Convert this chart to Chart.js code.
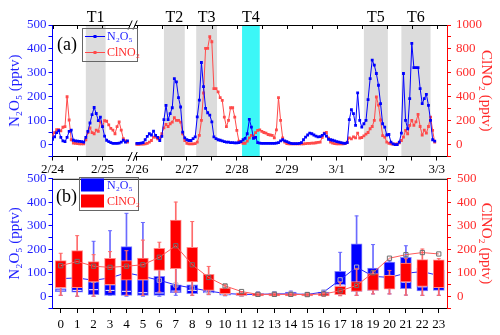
<!DOCTYPE html>
<html>
<head>
<meta charset="utf-8">
<script src="https://cdn.jsdelivr.net/npm/chart.js@4/dist/chart.umd.min.js"></script>
<style>
  html, body { margin: 0; padding: 0; background: #fff; }
  #wrap { position: relative; width: 500px; height: 335px; }
  canvas { position: absolute; left: 0; }
  #chartA { top: 0; }
  #chartB { top: 165px; }
</style>
</head>
<body>
<div id="wrap">
  <canvas id="chartA" width="500" height="175"></canvas>
  <canvas id="chartB" width="500" height="170"></canvas>
</div>
<script>
// ---- panel (a): hourly data, hour 0 = 2/24 00:00 ----
const seg1Start = 0;
const n2o5Seg1 = [22, 32, 50, 58, 30, 15, 12, 30, 55, 60, 18, 15, 14, 13, 12, 10, 30, 55, 90, 125, 155, 130, 100, 115,
  75, 35, 18, 12, 8, 5, 5, 5, 6, 10, 18, 10, 15];
const clno2Seg1 = [76, 100, 125, 125, 115, 145, 150, 400, 205, 40, 12, 10, 8, 6, 5, 5, 40, 100, 140, 100, 90, 120, 110, 190,
  150, 200, 195, 165, 135, 120, 90, 150, 190, 120, 50, 30, 20];

const seg2Start = 48;
const n2o5Seg2 = [
  5, 5, 6, 8, 20, 34, 45, 40, 56, 38, 30, 17,
  34, 104, 164, 104, 129, 154, 276, 262, 196, 157, 52, 28,
  20, 17, 17, 25, 32, 116, 186, 343, 242, 151, 133, 123,
  95, 32, 25, 20, 18, 15, 12, 10, 10, 8, 8, 7,
  7, 8, 12, 20, 26, 45, 105, 73, 26, 30, 8, 6,
  5, 5, 5, 5, 5, 5, 5, 6, 8, 15, 20, 15,
  12, 8, 5, 4, 4, 4, 5, 8, 20, 31, 40, 48,
  45, 40, 35, 32, 33, 38, 45, 35, 22, 20, 18, 15,
  12, 10, 8, 6, 5, 8, 104, 146, 129, 80, 216, 101,
  73, 87, 101, 188, 276, 353, 332, 297, 248, 171, 87, 73,
  40, 42, 10, 3, 0, 0, 10, 48, 297, 101, 66, 192,
  423, 322, 322, 322, 234, 171, 192, 210, 164, 101, 20, 14];
const clno2Seg2 = [
  2, 2, 3, 3, 5, 10, 20, 34, 62, 62, 48, 55,
  90, 140, 168, 151, 174, 188, 224, 202, 202, 188, 90, 34,
  11, 5, 5, 5, 8, 20, 76, 202, 431, 804, 804, 902,
  860, 468, 468, 440, 392, 370, 230, 150, 202, 308, 308, 230,
  118, 28, 20, 11, 11, 28, 56, 76, 70, 100, 118, 123,
  110, 101, 95, 84, 80, 76, 56, 123, 392, 202, 56, 20,
  8, 5, 5, 5, 5, 5, 5, 5, 6, 8, 10, 10,
  12, 12, 15, 18, 20, 60, 95, 101, 53, 20, 12, 8,
  5, 5, 5, 5, 8, 20, 56, 47, 64, 56, 95, 53,
  59, 73, 87, 101, 132, 151, 202, 398, 330, 205, 75, 62,
  20, 10, 5, 3, 3, 5, 15, 34, 62, 118, 90, 160,
  202, 160, 190, 252, 151, 80, 120, 95, 151, 230, 118, 20];

const dayLabels = ['2/24', '2/25', '2/26', '2/27', '2/28', '2/29', '3/1', '3/2', '3/3'];
const dayHours = [0, 24, 48, 72, 96, 120, 144, 168, 192];
const halfDayHours = [12, 60, 84, 108, 132, 156, 180];

const periodNames = ['T1', 'T2', 'T3', 'T4', 'T5', 'T6'];
const periodStart = [16, 61, 76.5, 98.5, 157, 175];
const periodEnd = [25.5, 71, 86.5, 107, 168.5, 189];

// ---- panel (b): diurnal statistics by hour ----
const hourLabels = ['0', '1', '2', '3', '4', '5', '6', '7', '8', '9', '10', '11',
  '12', '13', '14', '15', '16', '17', '18', '19', '20', '21', '22', '23'];
const n2o5Min = [4, 0, 0, 4, 0, 0, 0, 4, 4, 7, 2, 2, 2, 2, 2, 2, 2, 4, 4, 10, 10, 5, 4, 4];
const n2o5Q1 = [20, 17, 7, 4, 4, 4, 4, 15, 11, 14, 5, 4, 4, 4, 4, 4, 4, 46, 21, 25, 35, 32, 23, 25];
const n2o5Median = [26, 25, 28, 25, 21, 15, 14, 22, 25, 18, 9, 7, 7, 8, 9, 6, 10, 48, 40, 40, 60, 60, 40, 40];
const n2o5Q3 = [33, 38, 61, 49, 211, 70, 85, 49, 49, 25, 15, 12, 12, 14, 18, 10, 18, 106, 223, 120, 145, 166, 120, 110];
const n2o5Max = [90, 150, 234, 279, 353, 314, 180, 200, 150, 50, 30, 18, 18, 20, 22, 15, 25, 187, 342, 220, 150, 215, 140, 130];
const n2o5Mean = [75, 78, 68, 78, 100, 85, 68, 48, 35, 22, 12, 8, 8, 10, 10, 8, 18, 70, 124, 85, 80, 98, 105, 88];

const clno2Min = [4, 0, 0, 18, 4, 4, 18, 18, 4, 7, 4, 2, 0, 0, 0, 0, 0, 2, 4, 10, 10, 5, 4, 4];
const clno2Q1 = [37, 37, 61, 49, 68, 70, 110, 117, 61, 25, 11, 4, 1, 1, 1, 1, 1, 7, 21, 25, 30, 61, 42, 37];
const clno2Q3 = [152, 194, 148, 161, 152, 163, 204, 324, 208, 93, 35, 15, 11, 11, 11, 10, 11, 42, 63, 96, 89, 141, 156, 155];
const clno2Max = [183, 258, 177, 190, 194, 239, 230, 401, 318, 127, 49, 20, 14, 14, 14, 12, 15, 60, 117, 110, 110, 160, 201, 160];
const clno2Mean = [130, 148, 128, 123, 128, 134, 166, 215, 134, 80, 44, 20, 8, 8, 8, 7, 10, 23, 46, 100, 162, 177, 186, 180];

// ---------------------------------------------------------------
Chart.defaults.font.family = "'Liberation Serif', 'Times New Roman', serif";
Chart.defaults.font.size = 13;

const BLUE = '#0000ff';
const RED = '#ff0000';
const BLUE_TXT = '#1f1fff';
const RED_TXT = '#ff2a2a';

// axis break: 2/25 12:00 -> 2/26 00:00 squeezed into a small gap
const breakFrom = 36, breakTo = 48, breakGap = 4.5;
const toAxis = (h) => (h <= breakFrom ? h : h - (breakTo - breakFrom) + breakGap);

function hourly(s1, s2) {
  const pts = s1.map((v, i) => ({ x: toAxis(seg1Start + i), y: v }));
  pts.push({ x: toAxis(breakFrom) + 1, y: null });
  s2.forEach((v, i) => pts.push({ x: toAxis(seg2Start + i), y: v }));
  return pts;
}

const tickHoursA = dayHours.concat(halfDayHours).sort((a, b) => a - b);

const panelADecor = {
  id: 'panelADecor',
  beforeDatasetsDraw(chart) {
    const { ctx, chartArea: a, scales: { x } } = chart;
    ctx.save();
    periodStart.forEach((s, i) => {
      const x0 = x.getPixelForValue(toAxis(s));
      const x1 = x.getPixelForValue(toAxis(periodEnd[i]));
      ctx.fillStyle = periodNames[i] === 'T4' ? '#3cf7f7' : '#dcdcdc';
      ctx.fillRect(x0, a.top, x1 - x0, a.bottom - a.top - 0.5);
    });
    ctx.restore();
  },
  afterDraw(chart) {
    const { ctx, chartArea: a, scales: { x } } = chart;
    ctx.save();
    // top frame with inward ticks
    ctx.strokeStyle = '#000';
    ctx.lineWidth = 1;
    ctx.beginPath();
    ctx.moveTo(a.left, a.top + 0.5);
    ctx.lineTo(a.right, a.top + 0.5);
    tickHoursA.forEach((h) => {
      const px = Math.round(x.getPixelForValue(toAxis(h))) + 0.5;
      ctx.moveTo(px, a.top);
      ctx.lineTo(px, a.top + 4);
    });
    ctx.stroke();

    // axis break marks
    const xb = x.getPixelForValue((toAxis(breakFrom) + toAxis(breakTo)) / 2);
    [a.top, a.bottom].forEach((yy) => {
      ctx.fillStyle = '#fff';
      ctx.fillRect(xb - 2, yy - 2, 4.5, 4);
      ctx.beginPath();
      ctx.moveTo(xb - 4, yy + 4.5);
      ctx.lineTo(xb, yy - 4.5);
      ctx.moveTo(xb + 1, yy + 4.5);
      ctx.lineTo(xb + 5, yy - 4.5);
      ctx.stroke();
    });

    // period labels
    ctx.fillStyle = '#000';
    ctx.font = "16px 'Liberation Serif'";
    ctx.textAlign = 'center';
    ctx.textBaseline = 'alphabetic';
    periodNames.forEach((n, i) => {
      const cx = (x.getPixelForValue(toAxis(periodStart[i])) + x.getPixelForValue(toAxis(periodEnd[i]))) / 2;
      ctx.fillText(n, cx, 21.5);
    });

    // panel tag
    ctx.font = "18px 'Liberation Serif'";
    ctx.textAlign = 'left';
    ctx.textBaseline = 'middle';
    ctx.fillText('(a)', 57, 45);

    // legend
    ctx.strokeStyle = '#666';
    ctx.strokeRect(82.5, 28.5, 55, 33);
    const rows = [
      { label: 'N₂O₅', color: BLUE, txt: BLUE_TXT, y: 36 },
      { label: 'ClNO₂', color: '#ff4a4a', txt: RED_TXT, y: 52 }
    ];
    ctx.font = "12px 'Liberation Serif'";
    rows.forEach((r) => {
      ctx.strokeStyle = r.color;
      ctx.beginPath();
      ctx.moveTo(85, r.y + 0.5);
      ctx.lineTo(105, r.y + 0.5);
      ctx.stroke();
      ctx.fillStyle = r.color;
      ctx.fillRect(93.5, r.y - 1, 3, 3);
      ctx.fillStyle = r.txt;
      ctx.fillText(r.label, 107, r.y + 1);
    });
    ctx.restore();
  }
};

new Chart(document.getElementById('chartA'), {
  type: 'line',
  data: {
    datasets: [
      {
        label: 'N₂O₅',
        data: hourly(n2o5Seg1, n2o5Seg2),
        yAxisID: 'y',
        borderColor: BLUE,
        backgroundColor: BLUE,
        borderWidth: 1,
        pointStyle: 'rect',
        pointRadius: 2,
        pointBorderWidth: 0,
        spanGaps: false,
        order: 0
      },
      {
        label: 'ClNO₂',
        data: hourly(clno2Seg1, clno2Seg2),
        yAxisID: 'y1',
        borderColor: '#ff4a4a',
        backgroundColor: '#ff4a4a',
        borderWidth: 1,
        pointStyle: 'rect',
        pointRadius: 2,
        pointBorderWidth: 0,
        spanGaps: false,
        order: 1
      }
    ]
  },
  options: {
    responsive: false,
    animation: false,
    devicePixelRatio: 1,
    layout: { padding: { top: 25, left: 0, right: 0, bottom: 0 } },
    plugins: { legend: { display: false }, tooltip: { enabled: false } },
    scales: {
      x: {
        type: 'linear',
        min: 0,
        max: 189.4,
        afterFit: (s) => { s.height = 18.5; },
        afterBuildTicks: (s) => { s.ticks = tickHoursA.map((h) => ({ value: toAxis(h) })); },
        ticks: {
          autoSkip: false,
          maxRotation: 0,
          padding: 1,
          color: '#000',
          callback: (v) => {
            const i = dayHours.findIndex((h) => Math.abs(toAxis(h) - v) < 0.01);
            return i >= 0 ? dayLabels[i] : '';
          }
        },
        grid: { drawOnChartArea: false, tickLength: 4, tickColor: '#000' },
        border: { color: '#000', width: 1 }
      },
      y: {
        position: 'left',
        min: -50,
        max: 500,
        afterFit: (s) => { s.width = 52.5; },
        ticks: { stepSize: 50, autoSkip: false, color: BLUE_TXT, padding: 2, callback: (v) => (v >= 0 && v % 100 === 0 ? String(v) : '') },
        grid: { drawOnChartArea: false, tickLength: 4, tickColor: BLUE },
        border: { color: BLUE, width: 1 },
        title: { display: true, text: 'N₂O₅ (pptv)', color: BLUE_TXT, font: { size: 15 }, padding: { top: 6, bottom: 0 } }
      },
      y1: {
        position: 'right',
        min: -100,
        max: 1000,
        afterFit: (s) => { s.width = 53; },
        ticks: { stepSize: 100, autoSkip: false, color: RED_TXT, padding: 5, callback: (v) => (v >= 0 && v % 200 === 0 ? String(v) : '') },
        grid: { drawOnChartArea: false, tickLength: 4, tickColor: RED },
        border: { color: RED, width: 1 },
        title: { display: true, text: 'ClNO₂ (pptv)', color: RED_TXT, font: { size: 15 }, padding: { top: 5, bottom: 0 } }
      }
    }
  },
  plugins: [panelADecor]
});

// ---------------------------------------------------------------
const panelBDecor = {
  id: 'panelBDecor',
  afterDraw(chart) {
    const { ctx, chartArea: a } = chart;
    ctx.save();
    ctx.strokeStyle = '#000';
    ctx.lineWidth = 1;
    ctx.beginPath();
    ctx.moveTo(a.left, a.top + 0.5);
    ctx.lineTo(a.right, a.top + 0.5);
    ctx.stroke();

    ctx.fillStyle = '#000';
    ctx.font = "18px 'Liberation Serif'";
    ctx.textBaseline = 'middle';
    ctx.textAlign = 'left';
    ctx.fillText('(b)', 56, 32);

    ctx.strokeStyle = '#666';
    ctx.strokeRect(79.5, 12.5, 59, 33);
    ctx.fillStyle = BLUE;
    ctx.fillRect(81, 13.5, 23, 13);
    ctx.fillStyle = RED;
    ctx.fillRect(81, 29.5, 23, 13);
    ctx.font = "12px 'Liberation Serif'";
    ctx.fillStyle = BLUE_TXT;
    ctx.fillText('N₂O₅', 107, 21);
    ctx.fillStyle = RED_TXT;
    ctx.fillText('ClNO₂', 107, 37);
    ctx.restore();
  }
};

const pairs = (lo, hi) => lo.map((v, i) => [v, hi[i]]);
const capSet = (data, color, axis, order) => ({
  type: 'line', data, yAxisID: axis, showLine: false, pointStyle: 'line',
  pointRadius: 2, pointBorderWidth: 1, pointBorderColor: color, order
});

new Chart(document.getElementById('chartB'), {
  type: 'bar',
  data: {
    labels: hourLabels,
    datasets: [
      {
        type: 'line', label: 'ClNO₂ mean', data: clno2Mean, yAxisID: 'y1',
        borderColor: '#ff5a5a', borderWidth: 1, pointStyle: 'rect', pointRadius: 3,
        pointBorderColor: '#6e6e6e', pointBackgroundColor: 'rgba(0,0,0,0)', pointBorderWidth: 1, order: 0
      },
      {
        label: 'ClNO₂', data: pairs(clno2Q1, clno2Q3), yAxisID: 'y1',
        backgroundColor: RED, borderColor: '#ff8a8a', borderWidth: 1, borderSkipped: false,
        barThickness: 11, grouped: false, order: 1
      },
      {
        label: 'ClNO₂ range', data: pairs(clno2Min, clno2Max), yAxisID: 'y1',
        backgroundColor: '#ff6b6b', borderWidth: 0, barThickness: 1, grouped: false, order: 2
      },
      capSet(clno2Max, '#ff6b6b', 'y1', 2),
      capSet(clno2Min, '#ff6b6b', 'y1', 2),
      {
        type: 'line', label: 'N₂O₅ mean', data: n2o5Mean, yAxisID: 'y',
        borderColor: '#2222ff', borderWidth: 1, pointStyle: 'rect', pointRadius: 3,
        pointBorderColor: '#b0b0c8', pointBackgroundColor: 'rgba(0,0,0,0)', pointBorderWidth: 1, order: 3
      },
      {
        type: 'line', label: 'N₂O₅ median', data: n2o5Median, yAxisID: 'y', showLine: false,
        pointStyle: 'line', pointRadius: 4.5, pointBorderWidth: 1, pointBorderColor: '#ffffff', order: 4
      },
      {
        label: 'N₂O₅', data: pairs(n2o5Q1, n2o5Q3), yAxisID: 'y',
        backgroundColor: BLUE, borderColor: '#8080ff', borderWidth: 1, borderSkipped: false,
        barThickness: 11, grouped: false, order: 5
      },
      {
        label: 'N₂O₅ range', data: pairs(n2o5Min, n2o5Max), yAxisID: 'y',
        backgroundColor: '#6b6bff', borderWidth: 0, barThickness: 1, grouped: false, order: 6
      },
      capSet(n2o5Max, '#6b6bff', 'y', 6),
      capSet(n2o5Min, '#6b6bff', 'y', 6)
    ]
  },
  options: {
    responsive: false,
    animation: false,
    devicePixelRatio: 1,
    layout: { padding: { top: 13, left: 0, right: 0, bottom: 0 } },
    plugins: { legend: { display: false }, tooltip: { enabled: false } },
    scales: {
      x: {
        type: 'category',
        offset: true,
        afterFit: (s) => { s.height = 27; },
        ticks: { autoSkip: false, maxRotation: 0, padding: 4, color: '#000' },
        grid: { offset: false, drawOnChartArea: false, tickLength: 5, tickColor: '#000' },
        border: { color: '#000', width: 1 }
      },
      y: {
        position: 'left',
        min: -50,
        max: 500,
        afterFit: (s) => { s.width = 52.5; },
        ticks: { stepSize: 50, autoSkip: false, color: BLUE_TXT, padding: 2, callback: (v) => (v >= 0 && v % 100 === 0 ? String(v) : '') },
        grid: { drawOnChartArea: false, tickLength: 4, tickColor: BLUE },
        border: { color: BLUE, width: 1 },
        title: { display: true, text: 'N₂O₅ (pptv)', color: BLUE_TXT, font: { size: 15 }, padding: { top: 6, bottom: 0 } }
      },
      y1: {
        position: 'right',
        min: -50,
        max: 500,
        afterFit: (s) => { s.width = 53; },
        ticks: { stepSize: 50, autoSkip: false, color: RED_TXT, padding: 6, callback: (v) => (v >= 0 && v % 100 === 0 ? String(v) : '') },
        grid: { drawOnChartArea: false, tickLength: 4, tickColor: RED },
        border: { color: RED, width: 1 },
        title: { display: true, text: 'ClNO₂ (pptv)', color: RED_TXT, font: { size: 15 }, padding: { top: 5, bottom: 0 } }
      }
    }
  },
  plugins: [panelBDecor]
});
</script>
</body>
</html>
